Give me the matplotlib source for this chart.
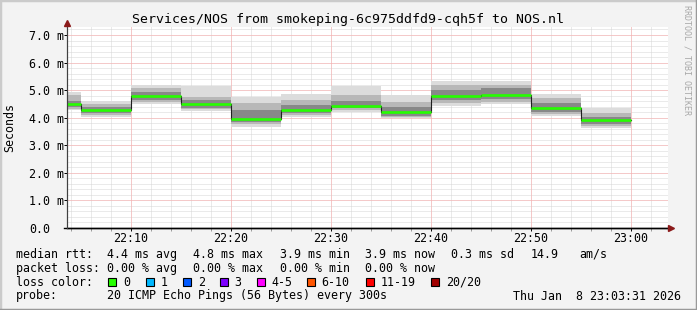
import numpy as np
import pandas as pd
import matplotlib
matplotlib.use("Agg")
import matplotlib.pyplot as plt
import matplotlib.dates as mdates
from matplotlib.patches import Rectangle
from matplotlib.lines import Line2D

W, H = 697, 310
FONT = "DejaVu Sans Mono"

# graph window and 5 minute step ends (rrd value at t covers t-5min .. t)
graph_start = "2026-01-08 22:03:36"
graph_end = "2026-01-08 23:03:42"
step_ends = ["22:05", "22:10", "22:15", "22:20", "22:25", "22:30",
             "22:35", "22:40", "22:45", "22:50", "22:55", "23:00"]

# median rtt per step (ms)
median = [4.50, 4.29, 4.79, 4.50, 3.96, 4.29, 4.42, 4.21, 4.79, 4.83, 4.35, 3.90]
# smoke bands (ms), outer -> inner
smoke_max = [4.93, 4.60, 5.20, 5.15, 4.76, 4.86, 5.15, 4.82, 5.33, 5.33, 4.86, 4.34]
smoke_mid_hi = [4.82, 4.50, 5.07, 4.76, 4.52, 4.64, 4.82, 4.58, 5.19, 5.19, 4.70, 4.16]
smoke_core_hi = [4.62, 4.40, 4.94, 4.64, 4.28, 4.46, 4.61, 4.40, 5.01, 5.07, 4.52, 4.04]
smoke_core_lo = [4.38, 4.16, 4.64, 4.36, 3.86, 4.16, 4.34, 4.07, 4.64, 4.68, 4.22, 3.76]
smoke_mid_lo = [4.32, 4.10, 4.56, 4.30, 3.76, 4.10, 4.28, 4.02, 4.54, 4.58, 4.14, 3.69]
smoke_min = [4.28, 4.04, 4.49, 4.24, 3.67, 4.04, 4.22, 3.98, 4.44, 4.49, 4.07, 3.62]

yticks = [0, 1, 2, 3, 4, 5, 6, 7]
ytick_labels = ["0.0", "1.0 m", "2.0 m", "3.0 m", "4.0 m", "5.0 m", "6.0 m", "7.0 m"]

title = "Services/NOS from smokeping-6c975ddfd9-cqh5f to NOS.nl"
rtt_stats = ["4.4 ms avg", "4.8 ms max", "3.9 ms min", "3.9 ms now", "0.3 ms sd"]
loss_stats = ["0.00 % avg", "0.00 % max", "0.00 % min", "0.00 % now"]
loss_labels = ["0", "1", "2", "3", "4-5", "6-10", "11-19", "20/20"]
loss_colors = ["#26ff00", "#00b8ff", "#0059ff", "#7e00ff", "#ff00ff",
               "#ff5500", "#ff0000", "#a10000"]
probe_text = "20 ICMP Echo Pings (56 Bytes) every 300s"
stamp_text = "Thu Jan  8 23:03:31 2026"


def fx(x):
    return x / W


def fy(y):
    return 1 - y / H


day = "2026-01-08 "
edges = pd.to_datetime([graph_start] + [day + t + ":00" for t in step_ends])
t0, t1 = pd.Timestamp(graph_start), pd.Timestamp(graph_end)


def pad(v):
    return list(v) + [v[-1]]


fig = plt.figure(figsize=(W / 100, H / 100), dpi=100, facecolor="#f3f3f3")
ax = fig.add_axes([fx(67), fy(228), fx(668) - fx(67), fy(27) - fy(228)])
ax.set_facecolor("white")

# grid (minor grey, major pink), dotted
dot = dict(lw=0.72, ls=(0, (1, 1)))
for m in pd.date_range("2026-01-08 22:04", t1, freq="2min"):
    ax.axvline(m, color="#d6d6d6", zorder=1, **dot)
for yv in np.arange(0.2, 7.3, 0.2):
    ax.axhline(yv, color="#d6d6d6", zorder=1, **dot)
for m in pd.date_range("2026-01-08 22:10", t1, freq="10min"):
    ax.axvline(m, color="#ffaaaa", zorder=1.5, **dot)
for yv in yticks[1:]:
    ax.axhline(yv, color="#ffaaaa", zorder=1.5, **dot)

# smoke
ax.fill_between(edges, pad(smoke_min), pad(smoke_max), step="post",
                color="#dcdcdc", lw=0, zorder=2)
ax.fill_between(edges, pad(smoke_mid_lo), pad(smoke_mid_hi), step="post",
                color="#b8b8b8", lw=0, zorder=2)
ax.fill_between(edges, pad(smoke_core_lo), pad(smoke_core_hi), step="post",
                color="#888888", lw=0, zorder=2)

# median line
ax.step(edges, pad(median), where="post", color="#202020", lw=0.8, zorder=3)
ax.hlines(median, edges[:-1], edges[1:], color=loss_colors[0], lw=1.9, zorder=4)

ax.set_xlim(t0, t1)
ax.set_ylim(0, 7.29)

ax.xaxis.set_major_locator(mdates.MinuteLocator(byminute=range(0, 60, 10)))
ax.xaxis.set_major_formatter(mdates.DateFormatter("%H:%M"))
ax.xaxis.set_minor_locator(mdates.MinuteLocator(byminute=range(0, 60, 2)))
ax.set_yticks(yticks)
ax.set_yticklabels(ytick_labels)
ax.tick_params(axis="x", which="major", length=2, width=0.7, pad=1.2,
               labelsize=8.4, colors="black")
ax.tick_params(axis="x", which="minor", length=2, width=0.7, color="#999999")
ax.tick_params(axis="y", which="major", length=2, width=0.7, pad=25.5, labelsize=8.4)
for lab in ax.get_xticklabels() + ax.get_yticklabels():
    lab.set_family(FONT)
for lab in ax.get_yticklabels():
    lab.set_ha("left")

for s in ["top", "right"]:
    ax.spines[s].set_visible(False)
ax.spines["left"].set_color("#404040")
ax.spines["bottom"].set_color("black")
ax.spines["left"].set_linewidth(0.8)
ax.spines["bottom"].set_linewidth(1.0)

# axis extensions and arrows
fig.add_artist(Line2D([fx(64), fx(670)], [fy(228), fy(228)], transform=fig.transFigure,
                      color="black", lw=1.0))
fig.add_artist(Line2D([fx(67), fx(67)], [fy(228), fy(23)], transform=fig.transFigure,
                      color="#404040", lw=0.8))
fig.add_artist(Line2D([fx(671)], [fy(228)], marker=">", markersize=5,
                      color="#8b1a1a", transform=fig.transFigure))
fig.add_artist(Line2D([fx(67)], [fy(23)], marker="^", markersize=5,
                      color="#8b1a1a", transform=fig.transFigure))

ax.set_ylabel("Seconds", family=FONT, fontsize=8.4, va="center")
ax.yaxis.set_label_coords((10 - 67) / (668 - 67), (228 - 127) / (228 - 27))

fig.text(fx(348), fy(19), title, family=FONT, fontsize=9.5, ha="center", va="center")
fig.text(fx(687), fy(5), "RRDTOOL / TOBI OETIKER", family=FONT, fontsize=6,
         color="#a8a8a8", rotation=270, ha="center", va="top")

# legend block
txt = dict(family=FONT, fontsize=8.4, va="center")
cols = [107.3, 193.3, 279.7, 365, 451]
fig.text(fx(16), fy(254.3), "median rtt:", **txt)
for c, s in zip(cols, rtt_stats):
    fig.text(fx(c), fy(254.3), s, **txt)
fig.text(fx(530.7), fy(254.3), "14.9", **txt)
fig.text(fx(579.3), fy(254.3), "am/s", **txt)

fig.text(fx(16), fy(268.3), "packet loss:", **txt)
for c, s in zip(cols, loss_stats):
    fig.text(fx(c), fy(268.3), s, **txt)

fig.text(fx(16), fy(282), "loss color:", **txt)
box_x = [108.3, 145.7, 182.7, 219.7, 256.7, 306.7, 365.7, 430.7]
for bx, lab, col in zip(box_x, loss_labels, loss_colors):
    fig.add_artist(Rectangle((fx(bx), fy(286)), 8 / W, 8 / H, transform=fig.transFigure,
                             facecolor=col, edgecolor="black", lw=0.8))
    fig.text(fx(bx + 15), fy(282), lab, **txt)

fig.text(fx(16), fy(296), "probe:", **txt)
fig.text(fx(107.3), fy(296), probe_text, **txt)
fig.text(fx(513.3), fy(296), stamp_text, **txt)

# 3d frame
fig.add_artist(Line2D([0, 0, 1], [0, 1, 1], transform=fig.transFigure,
                      color="#cbcbcb", lw=2.5))
fig.add_artist(Line2D([0, 1, 1], [0, 0, 1], transform=fig.transFigure,
                      color="#999999", lw=2.5))

fig.savefig("out.png", dpi=100, facecolor=fig.get_facecolor())
